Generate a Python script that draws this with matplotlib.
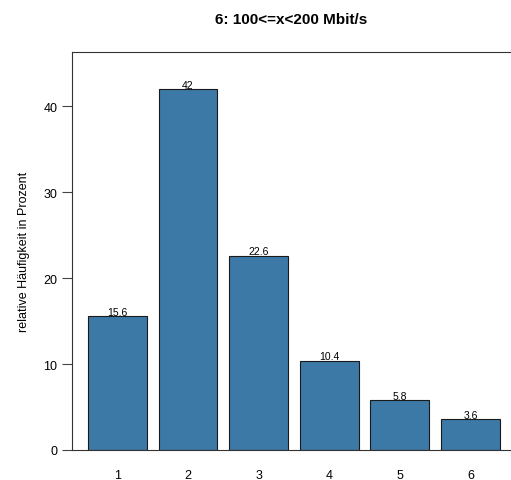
import matplotlib
matplotlib.use("Agg")
import matplotlib.pyplot as plt
import numpy as np

plt.rcParams['font.family'] = ['Liberation Sans', 'DejaVu Sans']

categories = ['1', '2', '3', '4', '5', '6']
values = [15.6, 42, 22.6, 10.4, 5.8, 3.6]
value_labels = ['15.6', '42', '22.6', '10.4', '5.8', '3.6']

bar_color = '#3c79a6'

fig = plt.figure(figsize=(5.11, 4.81), dpi=100)
ax = fig.add_axes([72 / 511, 30 / 481, 439 / 511, 398 / 481])

# R-style barplot positions: width 1, space 0.2
centers = 0.7 + 1.2 * np.arange(len(values))
ax.bar(centers, values, width=1.0, color=bar_color, edgecolor='#1a1a1a', linewidth=0.8)

for x, v, lab in zip(centers, values, value_labels):
    ax.text(x, v + 0.15, lab, ha='center', va='baseline', fontsize=7.5)

ax.set_xlim(-0.072, 7.39)
ax.set_ylim(0, 46.3)
ax.set_xticks(centers)
ax.set_xticklabels(categories, fontsize=9)
ax.tick_params(axis='x', length=0, pad=14)
ax.set_yticks([0, 10, 20, 30, 40])
ax.tick_params(axis='y', labelsize=9, length=7, width=0.8, color='#444444')
ax.set_ylabel('relative Häufigkeit in Prozent', fontsize=9, labelpad=10)

for side in ['left', 'top', 'bottom']:
    ax.spines[side].set_color('#333333')
    ax.spines[side].set_linewidth(0.8)
ax.spines['right'].set_visible(False)

fig.text(291 / 511, 1 - 20 / 481, '6: 100<=x<200 Mbit/s', ha='center', va='center',
         fontsize=11, fontweight='bold')

fig.savefig('out.png', dpi=100)
